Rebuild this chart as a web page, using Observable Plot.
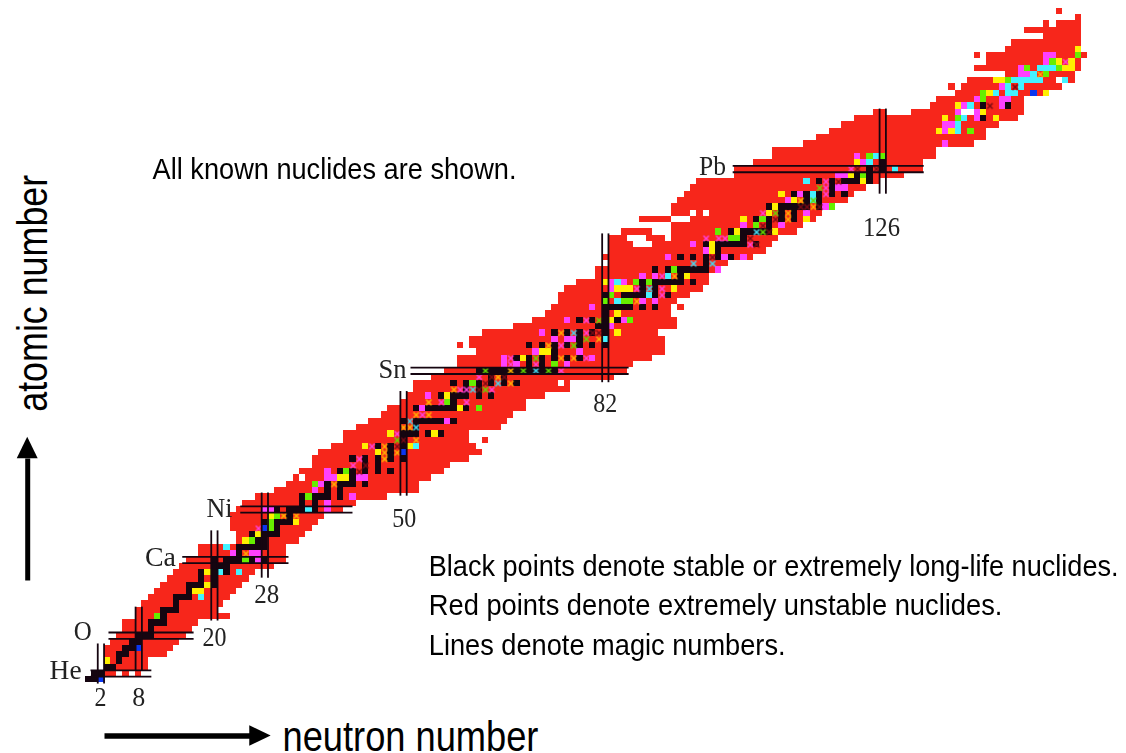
<!DOCTYPE html>
<html>
<head>
<meta charset="utf-8">
<script src="https://cdn.jsdelivr.net/npm/d3@7"></script>
<script src="https://cdn.jsdelivr.net/npm/@observablehq/plot@0.6"></script>
<style>html,body{margin:0;padding:0;background:#fff}svg{display:block}</style>
</head>
<body>
<div id="chart"></div>
<script>
// Each red row: [atomic number, [first N, last N], ...]
const redRows = [
[2,[1,4],[6,6],[8,8]],[3,[3,9]],[4,[3,9]],[5,[3,12]],[6,[3,13]],[7,[4,14]],[8,[5,15]],[9,[6,16]],[10,[6,17]],
[11,[8,22]],[12,[8,20]],[13,[9,21]],[14,[10,22]],[15,[11,23]],[16,[12,24]],[17,[13,25]],[18,[14,26]],[19,[15,29]],[20,[16,31]],
[21,[18,31]],[22,[18,31]],[23,[24,33]],[24,[24,34]],[25,[23,35]],[26,[23,36]],[27,[23,37]],[28,[24,40]],[29,[25,42]],[30,[27,47]],
[31,[30,52]],[32,[32,52]],[33,[33,33],[35,54]],[34,[34,56]],[35,[36,57]],[36,[36,60]],[37,[37,62]],[38,[39,61]],[39,[41,60],[63,63]],[40,[41,60]],
[41,[43,65]],[42,[45,66]],[43,[47,67]],[44,[48,69]],[45,[50,69]],[46,[51,72]],[47,[52,76]],[48,[52,74],[76,76]],[49,[55,83]],[50,[57,85]],
[51,[59,86]],[52,[59,89]],[53,[62,91]],[54,[59,59],[61,91]],[55,[61,91]],[56,[63,90]],[57,[68,93]],[58,[71,93]],[59,[73,92]],[60,[74,92],[94,94]],
[61,[75,93]],[62,[75,95]],[63,[76,97]],[64,[78,98]],[65,[81,98]],[66,[81,99]],[67,[83,101]],[68,[82,105]],[69,[83,107]],[70,[83,86],[90,108]],
[71,[83,85],[89,91],[93,109]],[72,[85,89],[93,112]],[73,[93,113]],[74,[88,92],[96,115]],[75,[93,95],[97,97],[99,116]],[76,[93,117]],[77,[94,120]],[78,[95,121]],[79,[96,123]],[80,[97,125]],
[81,[103,129]],[82,[103,132]],[83,[106,132]],[84,[109,134]],[85,[109,134]],[86,[114,140]],[87,[116,142]],[88,[118,142]],[89,[120,144]],[90,[122,147]],
[91,[125,126],[131,138],[141,148]],[92,[134,148]],[93,[135,148]],[94,[138,152]],[95,[137,137],[139,154]],[96,[140,153],[155,156]],[97,[146,156]],[98,[141,157]],[99,[143,157]],[100,[141,141],[143,158]],
[101,[146,157]],[102,[147,157]],[103,[152,157]],[104,[149,157]],[105,[152,152],[154,157]],[106,[157,157]],[107,[154,154]]
];

const stableCells = [
[1,[0,1]],[2,[1,2]],[3,[3,4]],[4,[5]],[5,[5,6]],[6,[6,7]],[7,[7,8]],[8,[8,9,10]],[9,[10]],[10,[10,11,12]],[11,[12]],[12,[12,13,14]],[13,[14]],[14,[14,15,16]],[15,[16]],[16,[16,17,18,20]],[17,[18,20]],[18,[18,20,22]],[19,[20,21,22]],[20,[20,22,23,24,26,28]],
[21,[24]],[22,[24,25,26,27,28]],[23,[27,28]],[24,[26,28,29,30]],[25,[30]],[26,[28,30,31,32]],[27,[32]],[28,[30,32,33,34,36]],[29,[34,36]],[30,[34,36,37,38,40]],[31,[38,40]],[32,[38,40,41,42,44]],[33,[42]],[34,[40,42,44,46,48]],[35,[44,46]],[36,[42,44,46,48,50]],[37,[48]],[38,[46,48,50]],[39,[50]],[40,[50,51,52,54,56]],
[41,[52]],[42,[50,52,53,54,55,56,58]],[44,[52,54,55,56,57,58,60]],[45,[58]],[46,[56,58,59,60,62,64]],[47,[60,62]],[48,[58,60,62,64,66,68]],[49,[64,66]],[50,[62,63,64,65,66,67,68,69,70,71,72,73,74]],[51,[70,72]],[52,[68,70,72,74,76,78]],[53,[74]],[54,[70,72,74,76,78,80,82]],[55,[78]],[56,[74,76,78,80,82]],[57,[81,82]],[58,[78,80,82,84]],[59,[82]],[60,[82,83,84,85,86,88,90]],
[62,[82,85,86,87,88,90,92]],[63,[88,90]],[64,[88,90,91,92,93,94,96]],[65,[94]],[66,[90,92,94,95,96,97,98]],[67,[98]],[68,[94,96,98,100,102]],[69,[100]],[70,[98,100,101,102,103,104,106]],[71,[104]],[72,[102,104,105,106,107,108]],[73,[108]],[74,[106,108,110,112]],[75,[110,112]],[76,[108,110,111,112,113,114,116]],[77,[114,116]],[78,[112,114,116,118,120]],[79,[118]],[80,[116,118,120,121,122,124]],[81,[122,124]],[82,[124,126]],[83,[126]],
[90,[142]],[92,[142,146]]
];

const yellowCells = [
[4,[3]],[15,[17,18]],[16,[19]],[18,[19]],[23,[25]],[24,[27]],[26,[33]],[27,[29]],[33,[40,41]],[37,[46]],[38,[44,51]],[40,[48,55]],[44,[59]],[45,[57]],[46,[57]],
[52,[69]],[53,[72,73]],[56,[84]],[58,[83]],[59,[84]],[63,[84,85,86,93]],[64,[82]],[65,[95]],[69,[99]],[70,[99]],[72,[103,109]],[74,[104,114]],[75,[108]],[76,[109]],[77,[112]],[78,[110]],[80,[123]],[81,[121]],[83,[122]],
[88,[135,137]],[90,[136,144]],[91,[142]],[92,[138]],[94,[143,152]],[96,[144,145]],[98,[155,156]],[99,[154,156]],[101,[157]]
];
const greenCells = [
[11,[11]],[20,[25]],[23,[26]],[25,[29]],[26,[29]],[27,[30]],[30,[35]],[32,[36]],[34,[41]],[44,[62]],[45,[57]],[48,[61]],[51,[74]],[58,[86]],[61,[82,85,86]],[62,[83]],[64,[87,89]],[66,[93]],[71,[102,103]],[72,[100]],[73,[106]],[74,[107]],[76,[118]],[81,[123]],[84,[124,126]],
[88,[140]],[90,[138]],[93,[142]],[94,[142]],[96,[146]],[98,[149,154]],[97,[152]],[99,[153]],[100,[157]]
];
const cyanCells = [
[14,[18]],[18,[21,24]],[22,[22]],[28,[35]],[38,[52]],[55,[82]],[61,[84]],[62,[89]],[64,[84]],[65,[92]],[77,[115]],[78,[115]],[80,[114]],[82,[128]],[83,[124]],[84,[125]],
[88,[138]],[89,[138]],[90,[139]],[92,[140]],[94,[144,146,147]],[95,[146,148]],[96,[147,148,149,150,151,155]],[97,[150]],[98,[151,152,153]]
];
const pinkCells = [
[20,[27]],[21,[23,26,27]],[28,[28,29,38]],[29,[38]],[30,[42]],[31,[36]],[32,[37]],[33,[38,39,43,44]],[34,[38]],[42,[57]],[44,[53]],[46,[54]],[51,[66,68,76]],[52,[66,80]],[53,[71,78]],[55,[74,76,77]],[56,[72]],[57,[83]],[58,[76,85]],[60,[80]],[61,[88,90]],[63,[83]],[64,[83,85,96]],[65,[88,90]],[66,[100]],[68,[92,101,104]],[69,[98]],[70,[96]],[73,[104,110]],[75,[114]],[76,[117]],[77,[111]],[78,[113]],[79,[119,120]],[81,[119,120]],[83,[123]],[84,[122]],
[86,[136]],[88,[136]],[89,[136,137]],[90,[141]],[91,[138,141]],[92,[139,145]],[93,[141,145,146]],[95,[145]],[97,[148,149]],[98,[148]],[99,[152]],[100,[152,153]]
];
const blueCells = [[1,[2]],[6,[8]],[25,[28]],[37,[50]],[94,[150]]];

// Cells drawn as a small crossed pattern
const orangeCross = [[21,[25]],[27,[31,33]],[32,[39]],[36,[47]],[37,[47,49]],[38,[47]],[39,[52]],[41,[50,51]],[43,[52,54]],[45,[54]],[47,[58]],[48,[67]],[49,[65]],[50,[67]],[52,[75,77]],[54,[73]],[56,[75]],[55,[81]],[61,[87]],[65,[93]],[74,[111]],[75,[111]],[76,[115]],[77,[113]],[97,[151]]];
const pinkCross = [[25,[27]],[35,[42]],[36,[43]],[38,[45]],[40,[49]],[45,[56,60]],[43,[53]],[47,[59,60,64]],[49,[62]],[50,[75]],[51,[67,71]],[52,[67,79]],[54,[75]],[56,[79]],[58,[79]],[63,[87,91]],[62,[91]],[65,[91]],[70,[105]],[71,[98,100,101]],[75,[107]],[78,[117]],[79,[117]],[80,[117]],[82,[121]],[99,[155]]];
const darkCross = [[34,[43]],[35,[44]],[38,[49]],[39,[50]],[47,[62]],[48,[63]],[49,[64,66]],[56,[80,81]],[68,[99]],[70,[106]],[71,[105]],[72,[108]],[73,[107]],[74,[109]],[76,[113,114,116]],[80,[119]],[82,[122,125]],[92,[143]],[95,[147]]];
const greenCross = [[39,[49]],[47,[63]],[50,[63,69,73]],[52,[71]],[54,[77]],[55,[79]],[58,[81]],[72,[107]],[75,[109]],[79,[116]],[77,[115]]];
const cyanCross = [[41,[52]],[42,[51]],[47,[61]],[48,[65]],[50,[71]],[56,[77]],[63,[89]],[67,[96,99]],[72,[106]]];

const magicH = [[2,0.35,10],[8,3.2,16.7],[20,14.9,31.75],[28,24.1,41.9],[50,51.1,85.7],[82,102.2,132.5]];
const magicV = [[2,0.4,6.76],[8,2.5,12.6],[20,10.4,24.7],[28,17.2,30.7],[50,30.2,46.8],[82,48.2,71.8],[126,78.1,91.6]];

const elementLabels = [["He",-3.6,2.47],["O",-0.9,8.66],["Ca",11.45,20.4],["Ni",20.8,28.17],["Sn",48.25,50.2],["Pb",99,82.4]];
const magicLabels = [["2",1.95,-1.8],["8",8,-1.8],["20",20,7.7],["28",28.3,14.5],["50",50.1,26.6],["82",82,44.8],["126",125.8,72.7]];
const notes = [
  ["All known nuclides are shown.",10.2,81.9],
  ["Black points denote stable or extremely long-life nuclides.",54,19],
  ["Red points denote extremely unstable nuclides.",54,12.8],
  ["Lines denote magic numbers.",54,6.45]
];
// Drawn widths of the narrow-set texts
const textWidths = {"All known nuclides are shown.":364,"Black points denote stable or extremely long-life nuclides.":690,"Red points denote extremely unstable nuclides.":574,"Lines denote magic numbers.":357,"neutron number":256,"atomic number":237,"He":32,"O":18,"Ca":31,"Ni":26,"Sn":28,"Pb":27,"2":12,"8":13,"20":24,"28":25,"50":24,"82":24,"126":37};

const RED="#f7261b", BLACK="#150510", YELLOW="#fff000", GREEN="#66ee00", CYAN="#44f2ff", PINK="#ff40ff", BLUE="#0a36f0";
const expand = rows => rows.flatMap(([z,ns]) => ns.map(n => ({z,n})));
const redBars = redRows.flatMap(([z,...spans]) => spans.map(([a,b]) => ({z,a,b})));
const cells = (rows,fill) => Plot.rect(expand(rows),{x1:d=>d.n-.5,x2:d=>d.n+.5,y1:d=>d.z-.5,y2:d=>d.z+.5,fill,shapeRendering:"crispEdges"});
const cross = (rows,stroke) => Plot.dot(expand(rows),{x:"n",y:"z",symbol:"times",r:2.6,stroke,strokeWidth:1.5,fill:"none"});
const LABEL_FONT="Liberation Serif", NOTE_FONT="Liberation Sans";

const plot = Plot.plot({
  width:1126,height:753,margin:0,
  style:{background:"#fff",overflow:"visible"},
  x:{axis:null,domain:[-13.925,164.66]},
  y:{axis:null,domain:[-10.69,108.74]},
  marks:[
    Plot.rect(redBars,{x1:d=>d.a-.5,x2:d=>d.b+.5,y1:d=>d.z-.5,y2:d=>d.z+.5,fill:RED,shapeRendering:"crispEdges"}),
    cells(yellowCells,YELLOW),cells(greenCells,GREEN),cells(cyanCells,CYAN),cells(pinkCells,PINK),cells(blueCells,BLUE),
    cells(stableCells,BLACK),
    cross(orangeCross,"#ffb400"),cross(pinkCross,"#ff40e0"),cross(darkCross,"#7a0a14"),cross(greenCross,"#66d800"),cross(cyanCross,"#44d8f0"),
    Plot.link(magicH.flatMap(([z,a,b])=>[{z:z-.5,a,b},{z:z+.5,a,b}]),{x1:"a",x2:"b",y1:"z",y2:"z",stroke:BLACK,strokeWidth:1.8}),
    Plot.link(magicV.flatMap(([n,a,b])=>[{n:n-.5,a,b},{n:n+.5,a,b}]),{x1:"n",x2:"n",y1:"a",y2:"b",stroke:BLACK,strokeWidth:1.8}),
    Plot.text(elementLabels,{x:d=>d[1],y:d=>d[2],text:d=>d[0],fontFamily:LABEL_FONT,fontSize:27,fill:"#222",textAnchor:"middle",lineAnchor:"middle"}),
    Plot.text(magicLabels,{x:d=>d[1],y:d=>d[2],text:d=>d[0],fontFamily:LABEL_FONT,fontSize:27,fill:"#222",textAnchor:"middle",lineAnchor:"middle"}),
    Plot.text(notes,{x:d=>d[1],y:d=>d[2],text:d=>d[0],fontFamily:NOTE_FONT,fontSize:30,fill:"#000",textAnchor:"start",lineAnchor:"middle"}),
    Plot.text(["neutron number"],{x:30.8,y:-8.14,fontFamily:NOTE_FONT,fontSize:43,fill:"#000",textAnchor:"start",lineAnchor:"middle"}),
    Plot.text(["atomic number"],{x:-8.66,y:62.3,rotate:-90,fontFamily:NOTE_FONT,fontSize:43,fill:"#000",textAnchor:"middle",lineAnchor:"middle"}),
    Plot.link([0],{x1:2.57,x2:25.7,y1:-7.91,y2:-7.91,stroke:"#000",strokeWidth:5.5}),
    Plot.areaY([{x:25.61,y1:-9.55,y2:-6.27},{x:29,y1:-7.91,y2:-7.91}],{x:"x",y1:"y1",y2:"y2",fill:"#000"}),
    Plot.link([0],{x1:-9.61,x2:-9.61,y1:16.75,y2:36.1,stroke:"#000",strokeWidth:5}),
    Plot.areaX([{y:36.05,x1:-11.27,x2:-7.95},{y:39.48,x1:-9.61,x2:-9.61}],{y:"y",x1:"x1",x2:"x2",fill:"#000"})
  ]
});
document.getElementById("chart").append(plot);
// Narrow each text to its drawn width, in the text's own frame
plot.querySelectorAll("text").forEach(t => {
  const w = textWidths[t.textContent];
  if (!w) return;
  const sx = w / t.getComputedTextLength();
  t.setAttribute("transform", (t.getAttribute("transform") || "") + ` scale(${sx},1)`);
});
// The reference is a slightly soft raster: soften the cell marks and small labels the same way
plot.querySelectorAll('g[aria-label="rect"],g[aria-label="dot"]').forEach(g => g.style.filter = "blur(0.45px)");
plot.querySelectorAll('g[aria-label="text"]').forEach((g,i) => { if (i < 2) g.style.filter = "blur(0.35px)"; });
</script>
</body>
</html>
